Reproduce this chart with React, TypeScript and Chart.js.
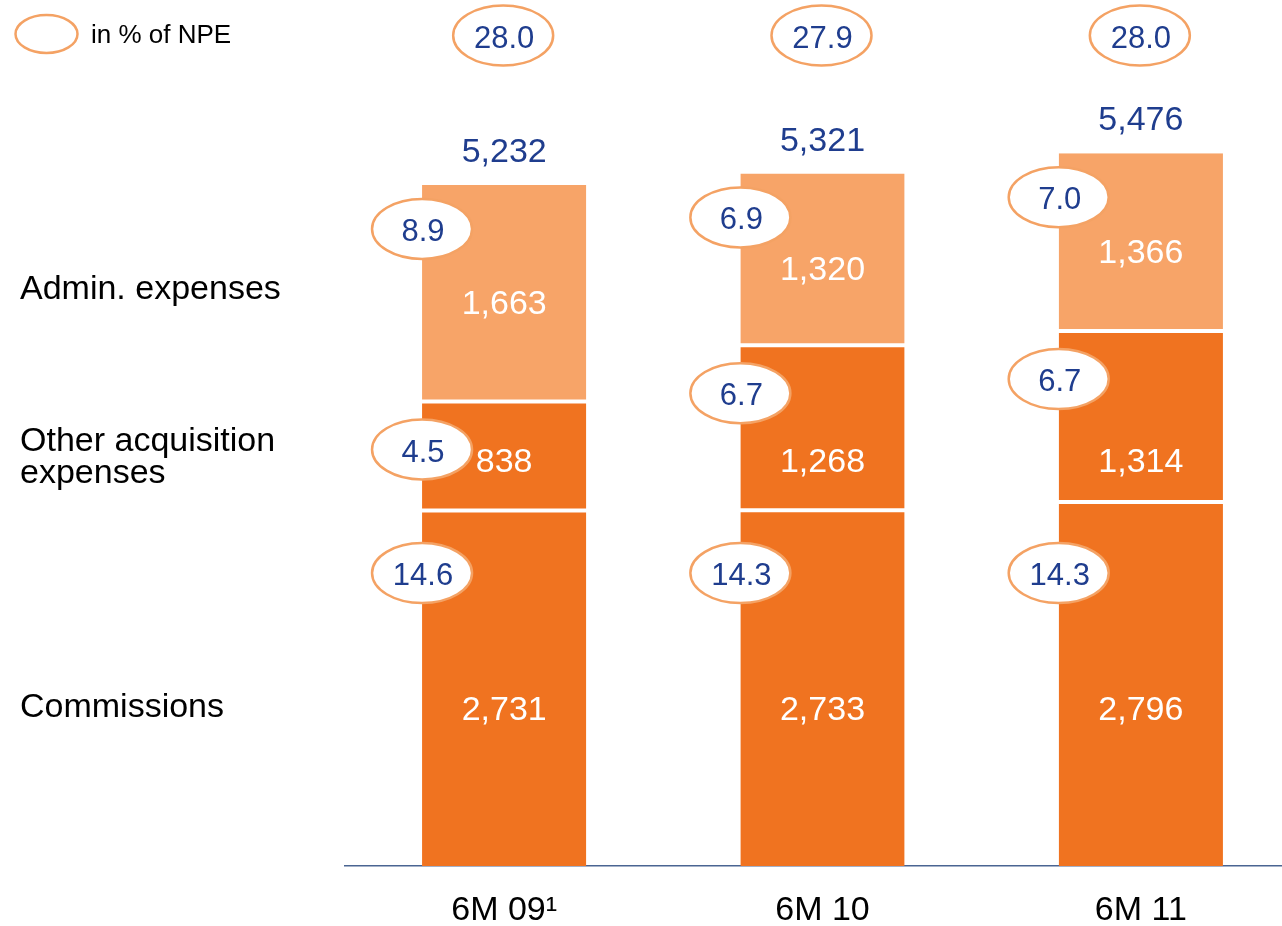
import React, { useEffect, useRef } from "react";
import { Chart, registerables } from "chart.js";

Chart.register(...registerables);

const categories = ["6M 09\u00B9", "6M 10", "6M 11"];
const commissions = [2731, 2733, 2796];
const otherAcquisition = [838, 1268, 1314];
const adminExpenses = [1663, 1320, 1366];
const totals = [5232, 5321, 5476];
const pctCommissions = ["14.6", "14.3", "14.3"];
const pctOther = ["4.5", "6.7", "6.7"];
const pctAdmin = ["8.9", "6.9", "7.0"];
const pctTotal = ["28.0", "27.9", "28.0"];
const seriesNames = ["Commissions", "Other acquisition\nexpenses", "Admin. expenses"];
const legendText = "in % of NPE";

const DARK = "#F07320";
const LIGHT = "#F7A468";
const BLUE = "#1F3D8E";
const RING = "#F4A264";
const FONT = "'Liberation Sans', Arial, sans-serif";

// draw text so that its cap-height middle sits at y
function capText(ctx: CanvasRenderingContext2D, text: string, x: number, y: number, size: number, color: string, align: CanvasTextAlign) {
  ctx.save();
  ctx.font = `${size}px ${FONT}`;
  ctx.fillStyle = color;
  ctx.textAlign = align;
  ctx.textBaseline = "alphabetic";
  ctx.fillText(text, x, y + size * 0.716 / 2);
  ctx.restore();
}

function ellipse(ctx: CanvasRenderingContext2D, x: number, y: number, rx: number, ry: number, text?: string) {
  ctx.save();
  ctx.beginPath();
  ctx.ellipse(x, y, rx, ry, 0, 0, Math.PI * 2);
  ctx.fillStyle = "#ffffff";
  ctx.fill();
  ctx.lineWidth = 2.5;
  ctx.strokeStyle = RING;
  ctx.stroke();
  ctx.restore();
  if (text) capText(ctx, text, x + 1, y + 1, 31, BLUE, "center");
}

const overlayPlugin = {
  id: "overlay",
  afterDatasetsDraw(chart: any) {
    const ctx: CanvasRenderingContext2D = chart.ctx;
    const metas = [0, 1, 2].map((i) => chart.getDatasetMeta(i));
    const pctSets = [pctCommissions, pctOther, pctAdmin];
    const fmt = (v: number) => v.toLocaleString("en-US");
    const values = [commissions, otherAcquisition, adminExpenses];

    const bottomRowTop = Math.min(...metas[0].data.map((b: any) => b.y));

    // segment value labels
    metas[0].data.forEach((bar: any, j: number) => {
      capText(ctx, fmt(values[0][j]), bar.x, bottomRowTop + 206, 34, "#ffffff", "center");
    });
    metas[1].data.forEach((bar: any, j: number) => {
      capText(ctx, fmt(values[1][j]), bar.x, bottomRowTop - 42, 34, "#ffffff", "center");
    });
    metas[2].data.forEach((bar: any, j: number) => {
      capText(ctx, fmt(values[2][j]), bar.x, (bar.y + bar.base) / 2 + 9, 34, "#ffffff", "center");
    });
    // totals
    metas[2].data.forEach((bar: any, j: number) => {
      capText(ctx, fmt(totals[j]), bar.x, bar.y - 35, 34, BLUE, "center");
    });

    // percentage ellipses
    metas[0].data.forEach((bar: any, j: number) => {
      ellipse(ctx, bar.x - bar.width / 2, bottomRowTop + 71, 50, 30, pctSets[0][j]);
    });
    metas[1].data.forEach((bar: any, j: number) => {
      ellipse(ctx, bar.x - bar.width / 2, bar.y + 48, 50, 30, pctSets[1][j]);
    });
    metas[2].data.forEach((bar: any, j: number) => {
      ellipse(ctx, bar.x - bar.width / 2, bar.y + 44, 50, 30, pctSets[2][j]);
    });
    metas[2].data.forEach((bar: any, j: number) => {
      ellipse(ctx, bar.x - 1, 35.5, 50, 30, pctTotal[j]);
    });

    // left series labels, aligned to first bar
    const offs = [17, -1, -6];
    for (let s = 0; s < 3; s++) {
      const bar = metas[s].data[0];
      const mid = (bar.y + bar.base) / 2 + offs[s];
      const lines = seriesNames[s].split("\n");
      const lh = 32.5;
      lines.forEach((ln, k) => {
        capText(ctx, ln, 20, mid + (k - (lines.length - 1) / 2) * lh, 34, "#000000", "left");
      });
    }

    // legend
    ellipse(ctx, 46.5, 34, 31, 19);
    capText(ctx, legendText, 91, 34, 26, "#000000", "left");
  },
};

export default function App() {
  const ref = useRef<HTMLCanvasElement | null>(null);
  useEffect(() => {
    if (!ref.current) return;
    const chart = new Chart(ref.current, {
      type: "bar",
      data: {
        labels: categories,
        datasets: [
          {
            label: "Commissions",
            data: commissions,
            backgroundColor: DARK,
            borderColor: "#ffffff",
            borderWidth: { top: 2, bottom: 0, left: 0, right: 0 },
            borderSkipped: false,
          },
          {
            label: "Other acquisition expenses",
            data: otherAcquisition,
            backgroundColor: DARK,
            borderColor: "#ffffff",
            borderWidth: { top: 2, bottom: 2, left: 0, right: 0 },
            borderSkipped: false,
          },
          {
            label: "Admin. expenses",
            data: adminExpenses,
            backgroundColor: LIGHT,
            borderColor: "#ffffff",
            borderWidth: { top: 0, bottom: 2, left: 0, right: 0 },
            borderSkipped: false,
          },
        ] as any,
      },
      options: {
        animation: false,
        responsive: false,
        devicePixelRatio: 1,
        layout: { padding: { left: 345, right: 0, top: 0, bottom: 0 } },
        plugins: { legend: { display: false }, tooltip: { enabled: false } },
        datasets: { bar: { barPercentage: 0.516, categoryPercentage: 1 } },
        scales: {
          x: {
            stacked: true,
            grid: { display: false, drawTicks: false },
            border: { display: true, color: "#4A6592", width: 1.5 },
            ticks: {
              color: "#000000",
              font: { family: FONT, size: 34 },
              padding: 24,
              maxRotation: 0,
            },
            afterFit: (scale: any) => {
              scale.height = 60;
            },
          },
          y: {
            stacked: true,
            display: false,
            min: 0,
            max: 6653,
          },
        },
      } as any,
      plugins: [overlayPlugin],
    });
    return () => chart.destroy();
  }, []);
  return (
    <div style={{ position: "absolute", left: 0, top: 0, width: 1282, height: 926, overflow: "hidden", background: "#fff" }}>
      <canvas ref={ref} width={1300} height={926} style={{ display: "block" }} />
    </div>
  );
}
